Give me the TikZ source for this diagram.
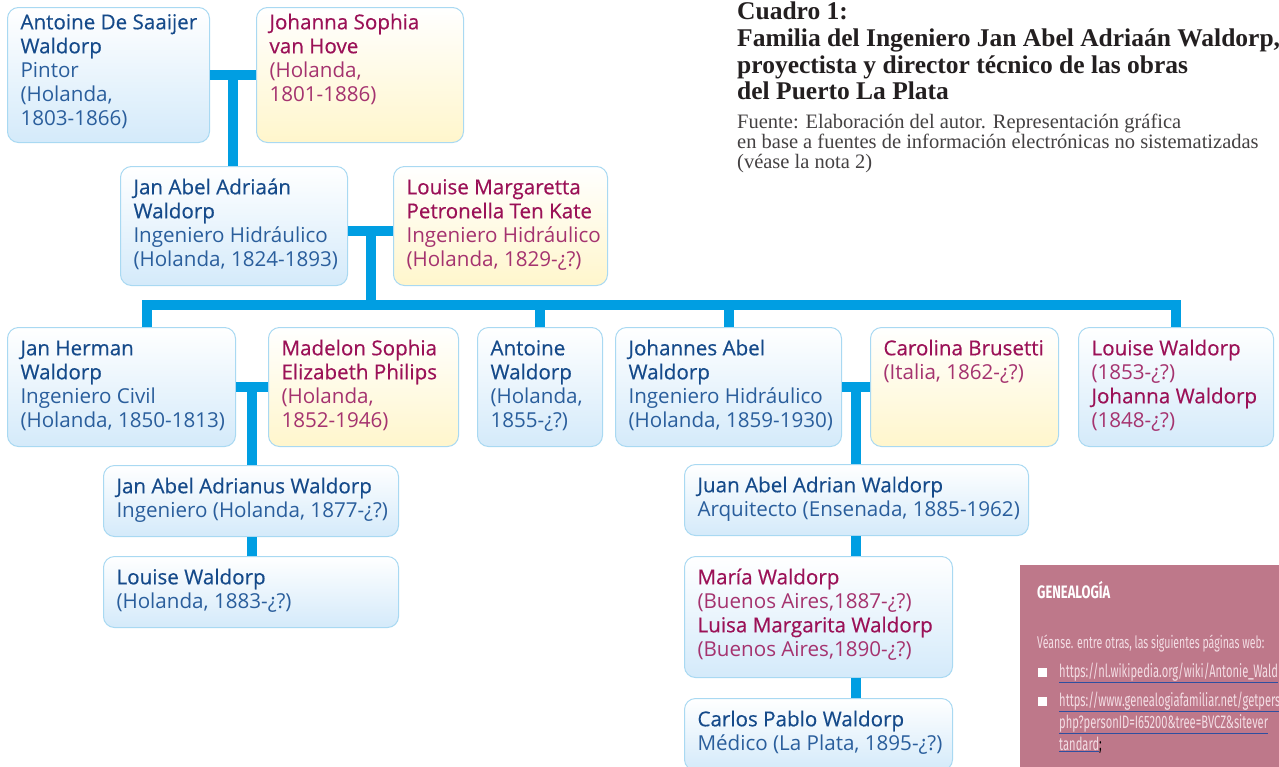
\documentclass[tikz,border=0pt]{standalone}
\usepackage{fontspec}
\setmainfont{Open Sans}
\newfontfamily\captionserif{Liberation Serif}
\newfontfamily\notehead[FakeStretch=0.72]{Fira Sans}
\newfontfamily\notetext[FakeStretch=0.62]{Fira Sans}
\newfontfamily\namefont[FakeBold=0.4]{Open Sans}
\usetikzlibrary{calc, positioning}

\definecolor{cardBlue}{HTML}{D4EAFA}
\definecolor{cardYellow}{HTML}{FFF6CC}
\definecolor{cardEdge}{HTML}{A9D9F2}
\definecolor{linkCyan}{HTML}{009EE2}
\definecolor{nameBlue}{HTML}{154A8A}
\definecolor{noteBlue}{HTML}{2A5E9C}
\definecolor{nameRose}{HTML}{9B1157}
\definecolor{noteRose}{HTML}{A5336F}
\definecolor{titleInk}{HTML}{231F20}
\definecolor{notePanel}{HTML}{BE788A}
\definecolor{notePale}{HTML}{F3DDE4}
\definecolor{urlLine}{HTML}{2E4FA0}

\newcommand{\card}[3]{\parbox[t][#2][t]{#1}{\begin{tabular}[t]{@{}l@{}}#3\end{tabular}}}
\newcommand{\nb}[1]{{\namefont\color{nameBlue}#1}}
\newcommand{\nr}[1]{{\namefont\color{nameRose}#1}}
\newcommand{\weblink}[1]{{\color{urlLine}\underline{\color{notePale}#1}}}

\tikzset{
  person/.style={draw=cardEdge, line width=1pt, rounded corners=11pt, anchor=north west,
    inner xsep=13pt, inner ysep=11pt, font=\fontsize{20.6}{24}\selectfont},
  bluecard/.style={person, top color=white, middle color=cardBlue, bottom color=cardBlue, text=noteBlue},
  yellowcard/.style={person, top color=white, middle color=cardYellow, bottom color=cardYellow, text=noteRose},
  link/.style={draw=linkCyan, line width=10pt},
}

\begin{document}
\begin{tikzpicture}[x=1pt, y=1pt]
  \clip (0,0) rectangle (1279,-766);
  \fill[white] (0,0) rectangle (1279,-766);

  % first generation
  \node[bluecard, inner ysep=5pt] (antoine) at (7,-7)
    {\card{176pt}{125pt}{\nb{Antoine De Saaijer}\\ \nb{Waldorp}\\ Pintor\\ (Holanda,\\ 1803-1866)}};
  \node[yellowcard, inner ysep=5pt] (johanna) at (256,-7)
    {\card{181pt}{125pt}{\nr{Johanna Sophia}\\ \nr{van Hove}\\ (Holanda,\\ 1801-1886)}};

  % second generation
  \node[bluecard] (janabel) at (120,-166)
    {\card{201pt}{97pt}{\nb{Jan Abel Adriaán}\\ \nb{Waldorp}\\ Ingeniero Hidráulico\\ (Holanda, 1824-1893)}};
  \node[yellowcard] (louisem) at (393,-166)
    {\card{188pt}{97pt}{\nr{Louise Margaretta}\\ \nr{Petronella Ten Kate}\\ Ingeniero Hidráulico\\ (Holanda, 1829-¿?)}};

  % third generation
  \node[bluecard] (jherman) at (7,-327)
    {\card{202pt}{97pt}{\nb{Jan Herman}\\ \nb{Waldorp}\\ Ingeniero Civil\\ (Holanda, 1850-1813)}};
  \node[yellowcard] (madelon) at (268,-327)
    {\card{164pt}{97pt}{\nr{Madelon Sophia}\\ \nr{Elizabeth Philips}\\ (Holanda,\\ 1852-1946)}};
  \node[bluecard] (antoinew) at (477,-327)
    {\card{99pt}{97pt}{\nb{Antoine}\\ \nb{Waldorp}\\ (Holanda,\\ 1855-¿?)}};
  \node[bluecard] (johannes) at (615,-327)
    {\card{200pt}{97pt}{\nb{Johannes Abel}\\ \nb{Waldorp}\\ Ingeniero Hidráulico\\ (Holanda, 1859-1930)}};
  \node[yellowcard] (carolina) at (870,-327)
    {\card{162pt}{97pt}{\nr{Carolina Brusetti}\\ (Italia, 1862-¿?)}};
  \node[bluecard, text=noteRose] (louisejo) at (1078,-327)
    {\card{169pt}{97pt}{\nr{Louise Waldorp}\\ (1853-¿?)\\ \nr{Johanna Waldorp}\\ (1848-¿?)}};

  % fourth generation and after
  \node[bluecard] (janadrianus) at (103,-465)
    {\card{269pt}{49pt}{\nb{Jan Abel Adrianus Waldorp}\\ Ingeniero (Holanda, 1877-¿?)}};
  \node[bluecard] (louiseh) at (103,-556)
    {\card{269pt}{49pt}{\nb{Louise Waldorp}\\ (Holanda, 1883-¿?)}};
  \node[bluecard] (juanabel) at (684,-464)
    {\card{318pt}{49pt}{\nb{Juan Abel Adrian Waldorp}\\ Arquitecto (Ensenada, 1885-1962)}};
  \node[bluecard, text=noteRose] (maria) at (684,-556)
    {\card{242pt}{99pt}{\nr{María Waldorp}\\ (Buenos Aires,1887-¿?)\\ \nr{Luisa Margarita Waldorp}\\ (Buenos Aires,1890-¿?)}};
  \node[bluecard] (carlos) at (684,-698)
    {\card{242pt}{50pt}{\nb{Carlos Pablo Waldorp}\\ Médico (La Plata, 1895-¿?)}};

  % connectors
  \coordinate (bus) at (0,-304.5);
  \coordinate (c1) at ($(antoine.east)!0.5!(johanna.west)$);
  \coordinate (c2) at ($([yshift=-5pt]janabel.east)!0.5!([yshift=-5pt]louisem.west)$);
  \coordinate (c3) at ($(jherman.east)!0.5!(madelon.west)$);
  \coordinate (c4) at ($(johannes.east)!0.5!(carolina.west)$);
  \draw[link] (antoine.east) -- (johanna.west);
  \draw[link] (c1) -- (c1 |- janabel.north);
  \draw[link] ([yshift=-5pt]janabel.east) -- ([yshift=-5pt]louisem.west);
  \draw[link] (c2) -- (c2 |- bus);
  \draw[link] ([xshift=25pt]jherman.north) |- (bus -| louisejo.north) -- (louisejo.north);
  \draw[link] (antoinew.north) -- (antoinew.north |- bus);
  \draw[link] (johannes.north) -- (johannes.north |- bus);
  \draw[link] (jherman.east) -- (madelon.west);
  \draw[link] (c3) -- (c3 |- janadrianus.north);
  \draw[link] (janadrianus.south -| c3) -- (louiseh.north -| c3);
  \draw[link] (johannes.east) -- (carolina.west);
  \draw[link] (c4) -- (c4 |- juanabel.north);
  \draw[link] (c4 |- juanabel.south) -- (c4 |- maria.north);
  \draw[link] (c4 |- maria.south) -- (c4 |- carlos.north);

  % caption
  \node[anchor=north west, inner sep=0, align=left, text=titleInk,
        font=\captionserif\bfseries\fontsize{25.5}{26.7}\selectfont] (title) at (737,-2)
    {Cuadro 1:\\ Familia del Ingeniero Jan Abel Adriaán Waldorp,\\ proyectista y director técnico de las obras\\ del Puerto La Plata};
  \node[anchor=north west, inner sep=0, align=left, text=titleInk!85,
        font=\captionserif\fontsize{20.5}{20}\selectfont] (source) at (737,-114)
    {Fuente: Elaboración del autor. Representación gráfica\\ en base a fuentes de información electrónicas no sistematizadas\\ (véase la nota 2)};

  % note panel
  \fill[notePanel] (1020,-565) rectangle (1290,-780);
  \node[anchor=base west, inner sep=0, text=white, font=\notehead\bfseries\fontsize{18}{20}\selectfont]
    (notetitle) at (1037,-598) {GENEALOGÍA};
  \node[anchor=base west, inner sep=0, text=notePale, font=\notetext\fontsize{17}{22}\selectfont]
    (noteintro) at (1037,-648) {Véanse. entre otras, las siguientes páginas web:};
  \node[fill=white, minimum size=9pt, inner sep=0] (bullet1) at (1042,-672) {};
  \node[fill=white, minimum size=9pt, inner sep=0] (bullet2) at (1042,-701) {};
  \begin{scope}[every node/.style={anchor=base west, inner sep=0, font=\notetext\fontsize{18}{22}\selectfont}]
    \node (url1) at (1059,-677) {\weblink{https://nl.wikipedia.org/wiki/Antonie\_Wald}};
    \node (url2a) at (1059,-706) {\weblink{https://www.genealogiafamiliar.net/getpers}};
    \node (url2b) at (1059,-728) {\weblink{php?personID=I65200\&tree=BVCZ\&sitever}};
    \node (url2c) at (1059,-750) {\weblink{tandard};};
  \end{scope}
\end{tikzpicture}
\end{document}
